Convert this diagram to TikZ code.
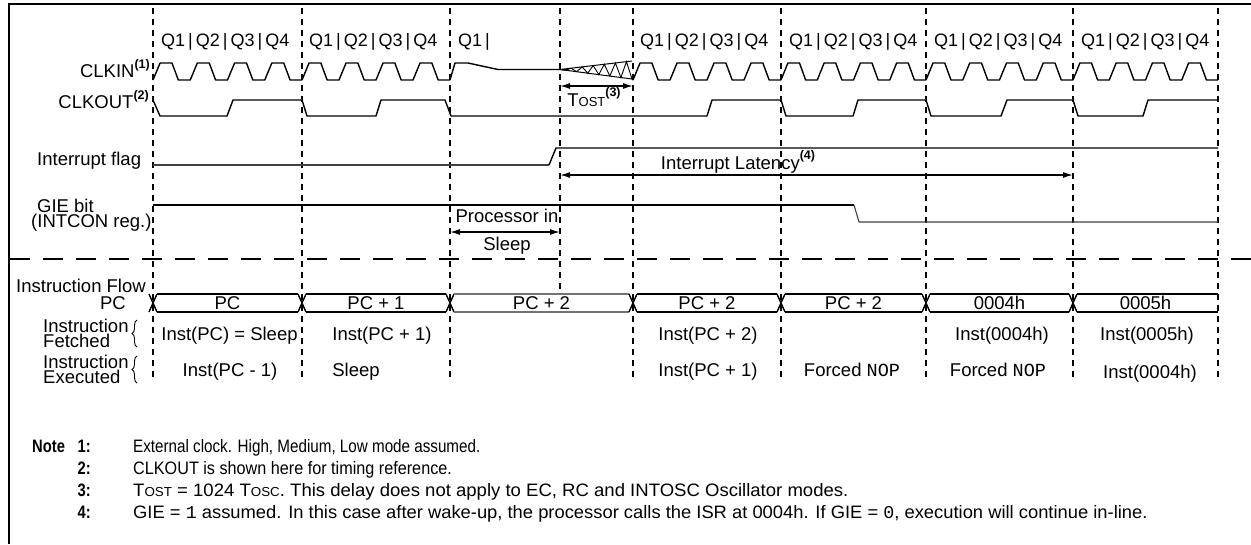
\documentclass[tikz,border=0pt]{standalone}
\usepackage{fontspec}
\setmainfont{Liberation Sans}
\setmonofont{Liberation Mono}
\newfontfamily\narrowfont[FakeStretch=0.82]{Liberation Sans}
\usetikzlibrary{arrows.meta,decorations.pathreplacing}
\newcommand\supr[1]{\raisebox{0.5em}{\fontsize{12.5}{13}\selectfont\bfseries(#1)}}
\newcommand\smc[1]{{\fontsize{13}{14}\selectfont #1}}
\tikzset{
  txt/.style={inner sep=0pt, font=\fontsize{18.5}{20}\selectfont},
  qtxt/.style={inner sep=0pt, font=\fontsize{18}{20}\selectfont, anchor=base west},
  note/.style={inner sep=0pt, font=\fontsize{18}{20}\selectfont, anchor=base west},
  notenum/.style={inner sep=0pt, font={\narrowfont\bfseries\fontsize{18}{20}\selectfont}},
  sig/.style={line width=1.4pt, line join=round},
  thinsig/.style={line width=1.1pt, black!75},
  vdash/.style={line width=1.8pt, dash pattern=on 6pt off 5pt},
  hdash/.style={line width=1.8pt, dash pattern=on 20pt off 13pt},
  dimarrow/.style={line width=1.4pt, {Latex[length=10pt,width=6pt]}-{Latex[length=10pt,width=6pt]}},
  bus/.style={line width=1.4pt},
  brc/.style={line width=0.9pt, decorate, decoration={brace, amplitude=5pt}},
}
\begin{document}
\begin{tikzpicture}[x=1pt,y=-1pt]
\useasboundingbox (0,0) rectangle (1251,544);
% frame
\draw[line width=2pt] (1251,4) -- (9,4) -- (9,544);
% vertical dashed cycle lines
\foreach \xx in {153,302,450,633,781,926,1073,1218}
  \draw[vdash] (\xx,8) -- (\xx,381);
\draw[vdash] (560,8) -- (560,294);
% horizontal separator
\draw[hdash] (10,259) -- (1251,259);

% Q labels
\node[qtxt] (qa) at (161,46) {Q1\,|\,Q2\,|\,Q3\,|\,Q4};
\node[qtxt] (qb) at (309,46) {Q1\,|\,Q2\,|\,Q3\,|\,Q4};
\node[qtxt] (qc) at (458,46) {Q1\,|};
\node[qtxt] (qd) at (640,46) {Q1\,|\,Q2\,|\,Q3\,|\,Q4};
\node[qtxt] (qe) at (789,46) {Q1\,|\,Q2\,|\,Q3\,|\,Q4};
\node[qtxt] (qf) at (934,46) {Q1\,|\,Q2\,|\,Q3\,|\,Q4};
\node[qtxt] (qg) at (1081,46) {Q1\,|\,Q2\,|\,Q3\,|\,Q4};

% left labels
\node[txt, anchor=base east] (clkin) at (150,77.5) {CLKIN\supr{1}};
\node[txt, anchor=base east] (clkout) at (149,108.5) {CLKOUT\supr{2}};
\node[txt, anchor=base west] (intf) at (37,165) {Interrupt flag};
\node[txt, anchor=base west, text depth=0pt] (gie) at (37,212.5) {GIE bit};
\node[txt, anchor=base west] (intcon) at (31,227.5) {(INTCON reg.)};
\node[txt, anchor=base west] (iflow) at (16,292.5) {Instruction Flow};
\node[txt, anchor=base east] (pclbl) at (126,309.5) {PC};
\node[txt, anchor=base west, text depth=0pt] (if1) at (43,332.5) {Instruction};
\node[txt, anchor=base west] (if2) at (43,347.5) {Fetched};
\node[txt, anchor=base west, text depth=0pt] (ie1) at (43,368.5) {Instruction};
\node[txt, anchor=base west] (ie2) at (43,383.5) {Executed};
\draw[brc] (137,347) -- (137,320);
\draw[brc] (137,383) -- (137,356);

% CLKIN
\foreach \xa/\xb in {153/302,302/450,633/781,781/926,926/1073,1073/1218}{
  \draw[sig] (\xa,80) \foreach \k in {0,1,2,3}{
     -- ({\xa+(\k+0.19)*(\xb-\xa)/4},63) -- ({\xa+(\k+0.51)*(\xb-\xa)/4},63)
     -- ({\xa+(\k+0.68)*(\xb-\xa)/4},80) -- ({\xa+(\k+1)*(\xb-\xa)/4},80)};
}
\draw[sig] (450,80) -- (455,63) -- (468,63) -- (498,69.5) -- (560,69.5);
% oscillator start-up wedge
\draw[line width=1pt] (560,69.5) -- (632,61) (560,69.5) -- (632,79);
\draw[line width=0.9pt] (560,69.5) \foreach \i in {1,...,13}{
   -- ({560+\i*72/13},{69.5+ifthenelse(mod(\i,2)==1,9.5,-8.5)*\i/13}) };
\draw[sig] (632,79) -- (633,80);

% CLKOUT
\draw[sig] (153,100) -- (160,116) -- (227,116) -- (233,100) -- (302,100)
  -- (307,116) -- (376,116) -- (381,100) -- (445,100) -- (451,116)
  -- (707,116) -- (712,100) -- (781,100) -- (786,116) -- (853,116)
  -- (858,100) -- (926,100) -- (931,116) -- (1001,116) -- (1007,100)
  -- (1073,100) -- (1078,116) -- (1143,116) -- (1148,100) -- (1218,100);
\node[txt, anchor=base] (tost) at (594,106) {T\smc{OST}\supr{3}};
\coordinate (tost-a) at (560,86);
\coordinate (tost-b) at (633,86);
\draw[dimarrow] (tost-a) -- (tost-b);

% Interrupt flag
\draw[thinsig] (153,165) -- (549,165);
\draw[sig] (549,165) -- (556,148) -- (1218,148);
\node[txt, anchor=base] (latlbl) at (738,169) {Interrupt Latency\supr{4}};
\coordinate (lat-a) at (560,175);
\coordinate (lat-b) at (1073,175);
\draw[dimarrow] (lat-a) -- (lat-b);

% GIE
\draw[sig] (153,205) -- (854,205);
\draw[thinsig] (854,205) -- (859,222) -- (1218,222);
\node[txt, anchor=base] (procin) at (507,222.5) {Processor in};
\node[txt, anchor=base] (sleeplbl) at (507,250.5) {Sleep};
\coordinate (slp-a) at (450,232);
\coordinate (slp-b) at (560,232);
\draw[dimarrow] (slp-a) -- (slp-b);

% PC bus
\foreach \xa/\xb/\ptxt/\pcol in {153/302/PC/black, 302/450/{PC + 1}/black, 450/633/{PC + 2}/black!55, 633/781/{PC + 2}/black, 781/926/{PC + 2}/black, 926/1073/0004h/black}{
  \draw[bus] (\xa-4,294) -- (\xa+4,312) (\xa-4,312) -- (\xa+4,294);
  \draw[bus,\pcol] (\xa+4,294) -- (\xb-4,294) (\xa+4,312) -- (\xb-4,312);
  \node[txt, anchor=base] (pc-\xa) at ({(\xa+\xb)/2},309.5) {\ptxt};
}
\draw[bus] (1069,294) -- (1077,312) (1069,312) -- (1077,294);
\draw[bus] (1077,294) -- (1218,294) (1077,312) -- (1218,312);
\node[txt, anchor=base] (pc-last) at (1145.5,309.5) {0005h};

% fetched
\node[txt, anchor=base] (f1) at (229.5,340.5) {Inst(PC) = Sleep};
\node[txt, anchor=base] (f2) at (382,340.5) {Inst(PC + 1)};
\node[txt, anchor=base] (f3) at (708,340.5) {Inst(PC + 2)};
\node[txt, anchor=base] (f4) at (1002,340.5) {Inst(0004h)};
\node[txt, anchor=base] (f5) at (1147,340.5) {Inst(0005h)};
% executed
\node[txt, anchor=base] (e1) at (230,376.5) {Inst(PC - 1)};
\node[txt, anchor=base] (e2) at (356,376.5) {Sleep};
\node[txt, anchor=base] (e3) at (708,376.5) {Inst(PC + 1)};
\node[txt, anchor=base] (e4) at (852,376.5) {Forced \texttt{NOP}};
\node[txt, anchor=base] (e5) at (998,376.5) {Forced \texttt{NOP}};
\node[txt, anchor=base] (e6) at (1150,378.5) {Inst(0004h)};

% notes
\node[notenum, anchor=base west] (nt) at (32,452) {Note};
\node[notenum, anchor=base east] (n1) at (91,452) {1:};
\node[notenum, anchor=base east] (n2) at (91,474) {2:};
\node[notenum, anchor=base east] (n3) at (91,496) {3:};
\node[notenum, anchor=base east] (n4) at (91,518) {4:};
\node[note] (t1) at (133,452) {\scalebox{0.845}[1]{External clock. High, Medium, Low mode assumed.}};
\node[note] (t2) at (133,474) {\scalebox{0.9}[1]{CLKOUT is shown here for timing reference.}};
\node[note] (t3) at (133,496) {\scalebox{1.03}[1]{T\smc{OST} = 1024 T\smc{OSC}. This delay does not apply to EC, RC and INTOSC Oscillator modes.}};
\node[note] (t4) at (133,518) {\scalebox{1.02}[1]{GIE = \texttt{1} assumed. In this case after wake-up, the processor calls the ISR at 0004h. If GIE = \texttt{0}, execution will continue in-line.}};
\end{tikzpicture}
\end{document}
